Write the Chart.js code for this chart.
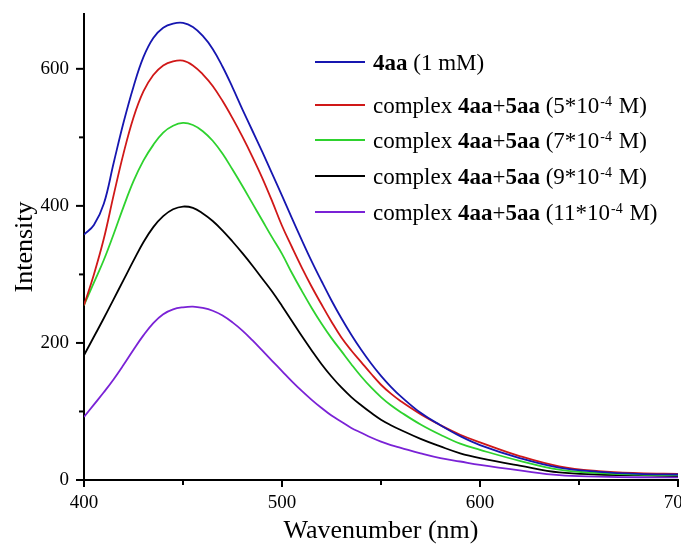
<!DOCTYPE html>
<html>
<head>
<meta charset="utf-8">
<script src="https://cdn.jsdelivr.net/npm/chart.js@4.4.1/dist/chart.umd.min.js"></script>
<style>
  html, body { margin: 0; padding: 0; background: #fff; overflow: hidden; }
  #wrap { width: 681px; height: 544px; }
</style>
</head>
<body>
<div id="wrap"><canvas id="spectra" width="681" height="544"></canvas></div>
<script>
// emission spectra
var wavelengths = [400,405,410,415,420,425,430,435,440,445,450,455,460,465,470,475,480,485,490,495,
                   500,505,510,515,520,525,530,535,540,545,550,555,560,570,580,590,600,620,640,660,680,700];

var int4aa  = [358,372,403,463,522,574,617,645,660,666,667,661,648,629,603,573,541,510,479,447,
               415,382,350,319,290,262,236,212,190,170,152,136,122,98,80,64,51,32,18,12,9,8];
var int5e4  = [255,300,352,416,477,529,567,591,605,611,612,605,592,575,553,528,501,472,441,407,
               371,340,310,282,256,231,208,189,172,155,139,126,115,96,80,66,55,35,20,13,10,9];
var int7e4  = [255,288,321,359,399,436,466,489,507,517,521,518,509,495,476,453,429,404,379,354,
               330,302,276,251,228,207,188,169,151,135,121,109,99,81,66,53,44,28,15,10,8,7];
var int9e4  = [182,209,236,264,292,320,347,369,385,395,399,397,389,378,364,348,331,313,294,275,
               254,232,210,189,169,151,135,121,109,98,88,80,73,60,49,39,32,21,11,8,7,6];
var int11e4 = [92,110,128,147,168,190,211,229,242,249,252,253,251,247,240,230,218,204,189,174,
               159,144,130,117,105,94,85,76,69,62,56,51,47,39,32,27,22,14,7,5,4,4];

var seriesNames = ['4aa (1 mM)', 'complex 4aa+5aa (5*10-4 M)', 'complex 4aa+5aa (7*10-4 M)',
                   'complex 4aa+5aa (9*10-4 M)', 'complex 4aa+5aa (11*10-4 M)'];
var concFactors = [null, '5', '7', '9', '11'];
var colors = ['#1616b0', '#d01818', '#2ed22e', '#000000', '#7a22d6'];

var xTicks = [400, 500, 600, 700];
var yTicks = [0, 200, 400, 600];

var serif = "'Liberation Serif', 'Times New Roman', serif";

function points(arr) {
  return wavelengths.map(function (w, i) { return { x: w, y: arr[i] }; });
}

var allSeries = [int4aa, int5e4, int7e4, int9e4, int11e4];
var datasets = allSeries.map(function (arr, i) {
  return {
    label: seriesNames[i],
    data: points(arr),
    borderColor: colors[i],
    backgroundColor: colors[i],
    borderWidth: 1.8,
    pointRadius: 0,
    fill: false,
    tension: 0.4
  };
});

// tick marks: long ones at labels, short ones in between
var tickMarks = {
  id: 'tickMarks',
  afterDraw: function (chart) {
    var ctx = chart.ctx, a = chart.chartArea;
    var xs = chart.scales.x, ys = chart.scales.y;
    ctx.save();
    ctx.strokeStyle = '#000';
    ctx.lineWidth = 2;
    xs.ticks.forEach(function (t) {
      var px = xs.getPixelForValue(t.value);
      var len = xTicks.indexOf(t.value) >= 0 ? 7 : 5;
      ctx.beginPath(); ctx.moveTo(px, a.bottom); ctx.lineTo(px, a.bottom + len); ctx.stroke();
    });
    ys.ticks.forEach(function (t) {
      var py = ys.getPixelForValue(t.value);
      var len = yTicks.indexOf(t.value) >= 0 ? 8 : 5;
      ctx.beginPath(); ctx.moveTo(a.left - len, py); ctx.lineTo(a.left, py); ctx.stroke();
    });
    ctx.restore();
  }
};

// legend with bold compound names and superscript exponent
var richLegend = {
  id: 'richLegend',
  afterDraw: function (chart) {
    var ctx = chart.ctx;
    var rowsY = [62, 105, 140, 176, 212];
    ctx.save();
    chart.data.datasets.forEach(function (ds, i) {
      var y = rowsY[i];
      ctx.strokeStyle = ds.borderColor;
      ctx.lineWidth = 2;
      ctx.beginPath(); ctx.moveTo(315, y); ctx.lineTo(365, y); ctx.stroke();

      var runs;
      if (concFactors[i] === null) {
        runs = [{ t: '4aa', b: true }, { t: ' (1 mM)' }];
      } else {
        runs = [{ t: 'complex ' }, { t: '4aa', b: true }, { t: '+' }, { t: '5aa', b: true },
                { t: ' (' + concFactors[i] + '*10' }, { t: '-4', sup: true }, { t: ' M)' }];
      }
      var x = 373;
      ctx.fillStyle = '#000';
      ctx.textBaseline = 'alphabetic';
      ctx.textAlign = 'left';
      runs.forEach(function (r) {
        if (r.sup) {
          ctx.font = '14px ' + serif;
          ctx.fillText(r.t, x + 1, y + 1);
          x += ctx.measureText(r.t).width + 2;
        } else {
          ctx.font = (r.b ? 'bold ' : '') + '23px ' + serif;
          ctx.fillText(r.t, x, y + 8);
          x += ctx.measureText(r.t).width;
        }
      });
    });
    ctx.restore();
  }
};

new Chart(document.getElementById('spectra'), {
  type: 'line',
  data: { datasets: datasets },
  options: {
    responsive: false,
    animation: false,
    layout: { padding: { top: 14, right: 3, left: 0, bottom: 0 } },
    plugins: { legend: { display: false }, tooltip: { enabled: false } },
    scales: {
      x: {
        type: 'linear',
        min: 400, max: 700,
        ticks: {
          stepSize: 50,
          includeBounds: false,
          maxRotation: 0,
          autoSkip: false,
          padding: 5,
          color: '#000',
          font: { family: serif, size: 19 },
          callback: function (v) { return xTicks.indexOf(v) >= 0 ? String(v) : ''; }
        },
        grid: { drawOnChartArea: false, drawTicks: true, tickLength: 7, tickColor: 'rgba(0,0,0,0)' },
        border: { display: true, color: '#000', width: 2 },
        title: { display: true, text: 'Wavenumber (nm)', color: '#000',
                 font: { family: serif, size: 26, lineHeight: 1 }, padding: 0 },
        afterFit: function (s) { s.height = 64; s.paddingLeft = 0; s.paddingRight = 0; }
      },
      y: {
        min: 0, max: 680,
        ticks: {
          stepSize: 100,
          includeBounds: false,
          autoSkip: false,
          padding: 7,
          color: '#000',
          font: { family: serif, size: 19 },
          callback: function (v) { return yTicks.indexOf(v) >= 0 ? String(v) : ''; }
        },
        grid: { drawOnChartArea: false, drawTicks: true, tickLength: 8, tickColor: 'rgba(0,0,0,0)' },
        border: { display: true, color: '#000', width: 2 },
        title: { display: true, text: 'Intensity', color: '#000',
                 font: { family: serif, size: 26, lineHeight: 1 }, padding: { top: 12, bottom: 0 } },
        afterFit: function (s) { s.width = 84; s.paddingTop = 0; s.paddingBottom = 0; }
      }
    }
  },
  plugins: [tickMarks, richLegend]
});
</script>
</body>
</html>
